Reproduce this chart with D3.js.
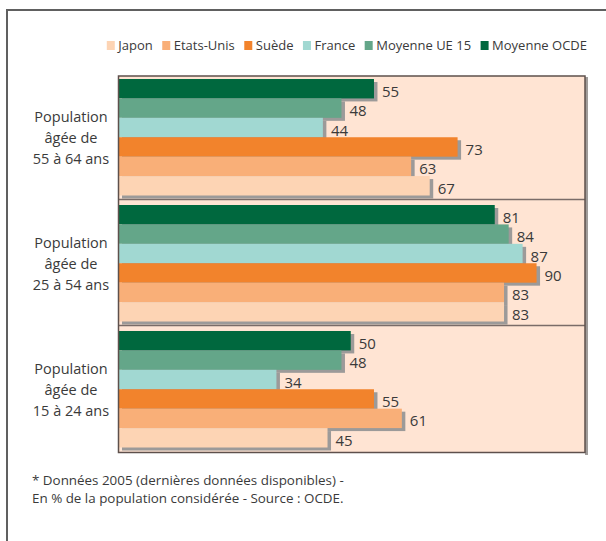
<!DOCTYPE html>
<html lang="fr">
<head>
<meta charset="utf-8">
<script src="https://cdn.jsdelivr.net/npm/d3@7"></script>
<style>
  html, body { margin: 0; padding: 0; background: #fff; }
  svg { display: block; font-family: "Open Sans", "Noto Sans", sans-serif; }
</style>
</head>
<body>
<svg id="chart" width="606" height="541"></svg>
<script>
// Taux d'emploi par tranche d'âge (en %)
const ageGroups = ["55 à 64 ans", "25 à 54 ans", "15 à 24 ans"];
const groupLines = [
  ["Population", "âgée de", "55 à 64 ans"],
  ["Population", "âgée de", "25 à 54 ans"],
  ["Population", "âgée de", "15 à 24 ans"]
];

// Séries, dans l'ordre des barres (du haut vers le bas)
const series = ["Moyenne OCDE", "Moyenne UE 15", "France", "Suède", "Etats-Unis", "Japon"];
// Ordre de la légende (de gauche à droite)
const legendOrder = ["Japon", "Etats-Unis", "Suède", "France", "Moyenne UE 15", "Moyenne OCDE"];

// Valeurs par série, une par tranche d'âge (55-64, 25-54, 15-24)
const moyenneOCDE = [55, 81, 50];
const moyenneUE15 = [48, 84, 48];
const france      = [44, 87, 34];
const suede       = [73, 90, 55];
const etatsUnis   = [63, 83, 61];
const japon       = [67, 83, 45];

const seriesValues = {
  "Moyenne OCDE": moyenneOCDE,
  "Moyenne UE 15": moyenneUE15,
  "France": france,
  "Suède": suede,
  "Etats-Unis": etatsUnis,
  "Japon": japon
};

const colors = {
  "Japon": "#fdd4b4",
  "Etats-Unis": "#f9af78",
  "Suède": "#f2832c",
  "France": "#a1d8d2",
  "Moyenne UE 15": "#64a689",
  "Moyenne OCDE": "#00683e"
};

const notes = [
  "* Données 2005 (dernières données disponibles) -",
  "En % de la population considérée - Source : OCDE."
];

const svg = d3.select("#chart");
const textColor = "#3a3a3a";

// Cadre extérieur (bords haut et gauche)
svg.append("rect")
  .attr("x", 7).attr("y", 10)
  .attr("width", 700).attr("height", 600)
  .attr("fill", "none")
  .attr("stroke", "#606060")
  .attr("stroke-width", 2);

// Zone de tracé
const plot = { left: 118.5, right: 585, top: 76, bottom: 452.5 };

const x = d3.scaleLinear().domain([0, 100]).range([plot.left, 583]);
const yGroup = d3.scaleBand().domain(ageGroups).range([73.5, 451.5]).padding(0);
const yBar = d3.scaleBand().domain(series).range([5.5, 122]).padding(0);

// Ombre du cadre à droite
svg.append("rect")
  .attr("x", plot.right).attr("y", plot.top + 1)
  .attr("width", 3).attr("height", plot.bottom - plot.top + 1.5)
  .attr("fill", "#a09c9a");

svg.append("rect")
  .attr("x", plot.left).attr("y", plot.top)
  .attr("width", plot.right - plot.left).attr("height", plot.bottom - plot.top)
  .attr("fill", "#ffe4d3");

// Barres avec ombre portée
ageGroups.forEach((g, gi) => {
  const gEl = svg.append("g").attr("transform", `translate(0,${yGroup(g)})`);
  series.forEach(s => {
    const v = seriesValues[s][gi];
    const y = yBar(s);
    const h = yBar.bandwidth();
    gEl.append("rect")
      .attr("x", x(0) + 3.5).attr("y", y + 3)
      .attr("width", x(v) - x(0)).attr("height", h)
      .attr("fill", "#9c9a99");
    gEl.append("rect")
      .attr("x", x(0)).attr("y", y)
      .attr("width", x(v) - x(0)).attr("height", h)
      .attr("fill", colors[s]);
  });
  series.forEach(s => {
    const v = seriesValues[s][gi];
    gEl.append("text")
      .attr("x", x(v) + 8)
      .attr("y", yBar(s) + yBar.bandwidth() / 2 + 2)
      .attr("dominant-baseline", "central")
      .attr("font-size", 15)
      .attr("fill", textColor)
      .text(v);
  });
  // Libellé de la tranche d'âge
  const cy = yGroup(g) + yGroup.bandwidth() / 2 + 1;
  const lab = svg.append("text")
    .attr("text-anchor", "middle")
    .attr("font-size", 14.5)
    .attr("fill", textColor);
  groupLines[gi].forEach((line, li) => {
    lab.append("tspan")
      .attr("x", 71)
      .attr("y", cy + (li - 1) * 21)
      .attr("dominant-baseline", "central")
      .text(line);
  });
});

// Séparateurs entre tranches d'âge
ageGroups.slice(1).forEach(g => {
  svg.append("line")
    .attr("x1", plot.left).attr("x2", plot.right)
    .attr("y1", yGroup(g)).attr("y2", yGroup(g))
    .attr("stroke", "#7a6c68")
    .attr("stroke-width", 1.6);
});

// Bordure de la zone de tracé
svg.append("rect")
  .attr("x", plot.left).attr("y", plot.top)
  .attr("width", plot.right - plot.left).attr("height", plot.bottom - plot.top)
  .attr("fill", "none")
  .attr("stroke", "#5e504c")
  .attr("stroke-width", 1.5);

// Légende, alignée à droite
const legend = svg.append("g");
const items = [];
legendOrder.forEach(s => {
  const item = legend.append("g");
  item.append("rect")
    .attr("x", 0).attr("y", 41)
    .attr("width", 8).attr("height", 9)
    .attr("fill", colors[s]);
  const t = item.append("text")
    .attr("x", 11.5).attr("y", 50)
    .attr("font-size", 13)
    .attr("fill", textColor)
    .text(s);
  const w = 11.5 + t.node().getComputedTextLength();
  items.push({ item, w });
});
const gap = 9.5;
const total = d3.sum(items, d => d.w) + gap * (items.length - 1);
let lx = 587 - total;
items.forEach(d => {
  d.item.attr("transform", `translate(${lx},0)`);
  lx += d.w + gap;
});

// Notes (un seul bloc de texte sur deux lignes)
svg.append("text")
  .attr("font-size", 13.4)
  .attr("fill", textColor)
  .selectAll("tspan")
  .data(notes)
  .join("tspan")
  .attr("x", 32)
  .attr("y", (d, i) => 485 + i * 18.4)
  .text(d => d);
</script>
</body>
</html>
